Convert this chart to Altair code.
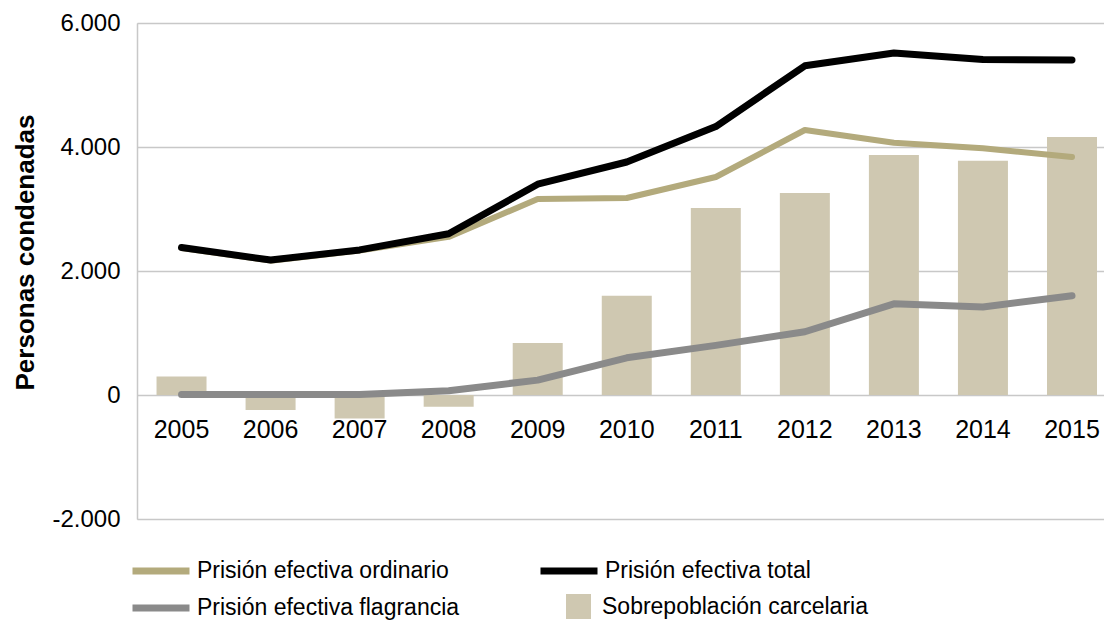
import altair as alt
import pandas as pd

years = ["2005", "2006", "2007", "2008", "2009", "2010", "2011", "2012", "2013", "2014", "2015"]
total = [2380, 2177, 2340, 2600, 3400, 3758, 4330, 5310, 5516, 5410, 5403]
ordinario = [2370, 2167, 2330, 2550, 3160, 3177, 3516, 4274, 4070, 3980, 3839]
flagrancia = [10, 10, 10, 70, 240, 600, 800, 1020, 1470, 1420, 1600]
sobrepoblacion = [300, -240, -380, -190, 840, 1600, 3016, 3258, 3871, 3780, 4161]

S_ORD = "Prisión efectiva ordinario"
S_TOT = "Prisión efectiva total"
S_FLA = "Prisión efectiva flagrancia"
S_SOB = "Sobrepoblación carcelaria"

C_ORD = "#b3aa7c"
C_TOT = "#000000"
C_FLA = "#8a8a8a"
C_SOB = "#cfc8b1"

rows = []
for name, vals in [(S_ORD, ordinario), (S_TOT, total), (S_FLA, flagrancia), (S_SOB, sobrepoblacion)]:
    for y, v in zip(years, vals):
        rows.append({"year": y, "value": v, "series": name})
df = pd.DataFrame(rows)

FONT = "Liberation Sans"

def line_legend(x, y, **kw):
    return alt.Legend(
        title=None,
        orient="none",
        direction="horizontal",
        legendX=x,
        legendY=y,
        symbolSize=3249,
        symbolType="stroke",
        symbolStrokeWidth=7,
        labelFont=FONT,
        labelFontSize=23,
        labelColor="#000000",
        labelOffset=4,
        labelLimit=0,
        **kw,
    )

# row 1: ordinario + total
color_enc = alt.Color(
    "series:N",
    scale=alt.Scale(domain=[S_ORD, S_TOT], range=[C_ORD, C_TOT]),
    legend=line_legend(-8, 516, columnPadding=77),
)

# row 2, col 1: flagrancia
stroke_enc = alt.Stroke(
    "series:N",
    scale=alt.Scale(domain=[S_FLA], range=[C_FLA]),
    legend=line_legend(-8, 553),
)

# row 2, col 2: bars
fill_enc = alt.Fill(
    "series:N",
    scale=alt.Scale(domain=[S_SOB], range=[C_SOB]),
    legend=alt.Legend(
        title=None,
        orient="none",
        legendX=429,
        legendY=571,
        symbolSize=625,
        symbolType="square",
        symbolStrokeWidth=0,
        symbolOpacity=1,
        labelFont=FONT,
        labelFontSize=23,
        labelColor="#000000",
        labelOffset=11,
        labelLimit=0,
    ),
)

x_enc = alt.X(
    "year:N",
    title=None,
    sort=years,
    scale=alt.Scale(paddingInner=0.4385, paddingOuter=0.149, align=0.736),
    axis=alt.Axis(
        offset=-124,
        domain=False,
        ticks=False,
        grid=False,
        labelAngle=0,
        labelPadding=22,
        labelFont=FONT,
        labelFontSize=25,
        labelColor="#000000",
    ),
)

y_enc = alt.Y(
    "value:Q",
    title="Personas condenadas",
    scale=alt.Scale(domain=[-2000, 6000], nice=False),
    axis=alt.Axis(
        values=[-2000, 0, 2000, 4000, 6000],
        labelExpr="replace(replace(format(datum.value, ','), ',', '.'), '\u2212', '-')",
        domain=True,
        domainColor="#c8c8c8",
        domainWidth=1.5,
        ticks=False,
        grid=True,
        gridColor="#c8c8c8",
        gridWidth=1.5,
        labelPadding=17,
        labelFont=FONT,
        labelFontSize=24,
        labelColor="#000000",
        titleFont=FONT,
        titleFontSize=26,
        titleFontWeight="bold",
        titleColor="#000000",
        titleX=-112,
        titleY=229,
        titleAngle=270,
        titleAlign="center",
        titleBaseline="middle",
    ),
)

base = alt.Chart(df)

bars = base.transform_filter(alt.datum.series == S_SOB).mark_bar(opacity=1).encode(
    x=x_enc, y=y_enc, fill=fill_enc
)

flag_line = base.transform_filter(alt.datum.series == S_FLA).mark_line(
    strokeWidth=7, strokeCap="round", strokeJoin="round"
).encode(x=x_enc, y=y_enc, stroke=stroke_enc)

ord_line = base.transform_filter(alt.datum.series == S_ORD).mark_line(
    strokeWidth=6, strokeCap="round", strokeJoin="round"
).encode(x=x_enc, y=y_enc, color=color_enc)

tot_line = base.transform_filter(alt.datum.series == S_TOT).mark_line(
    strokeWidth=7, strokeCap="round", strokeJoin="round"
).encode(x=x_enc, y=y_enc, color=color_enc)

chart = alt.layer(
    bars,
    flag_line,
    ord_line,
    tot_line,
).properties(
    width=967,
    height=496,
    autosize=alt.AutoSizeParams(type="none"),
    padding={"left": 137, "top": 23, "right": 0, "bottom": 104},
).configure_view(stroke=None).configure(background="#ffffff")

chart.save("out.html", embed_options={"renderer": "svg", "actions": False})
